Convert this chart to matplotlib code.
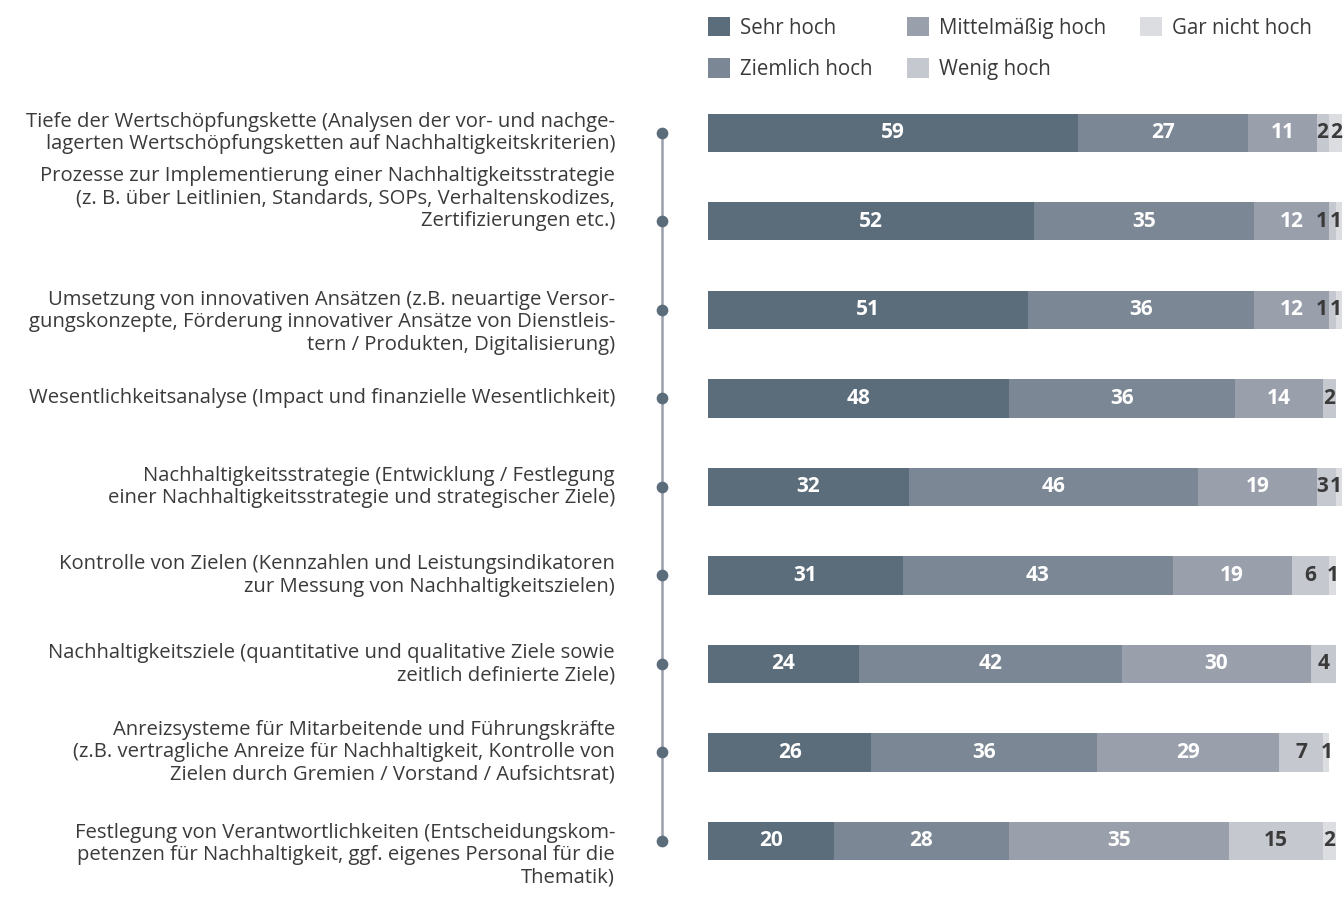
import matplotlib.pyplot as plt
import matplotlib.transforms as mtransforms
import numpy as np

plt.rcParams['font.family'] = ['Open Sans', 'DejaVu Sans']

# data
categories = [
    "Tiefe der Wertschöpfungskette (Analysen der vor- und nachge-\nlagerten Wertschöpfungsketten auf Nachhaltigkeitskriterien)",
    "Prozesse zur Implementierung einer Nachhaltigkeitsstrategie\n(z. B. über Leitlinien, Standards, SOPs, Verhaltenskodizes,\nZertifizierungen etc.)",
    "Umsetzung von innovativen Ansätzen (z.B. neuartige Versor-\ngungskonzepte, Förderung innovativer Ansätze von Dienstleis-\ntern / Produkten, Digitalisierung)",
    "Wesentlichkeitsanalyse (Impact und finanzielle Wesentlichkeit)",
    "Nachhaltigkeitsstrategie (Entwicklung / Festlegung\neiner Nachhaltigkeitsstrategie und strategischer Ziele)",
    "Kontrolle von Zielen (Kennzahlen und Leistungsindikatoren\nzur Messung von Nachhaltigkeitszielen)",
    "Nachhaltigkeitsziele (quantitative und qualitative Ziele sowie\nzeitlich definierte Ziele)",
    "Anreizsysteme für Mitarbeitende und Führungskräfte\n(z.B. vertragliche Anreize für Nachhaltigkeit, Kontrolle von\nZielen durch Gremien / Vorstand / Aufsichtsrat)",
    "Festlegung von Verantwortlichkeiten (Entscheidungskom-\npetenzen für Nachhaltigkeit, ggf. eigenes Personal für die\nThematik)",
]
series_names = ["Sehr hoch", "Ziemlich hoch", "Mittelmäßig hoch", "Wenig hoch", "Gar nicht hoch"]
sehr_hoch = [59, 52, 51, 48, 32, 31, 24, 26, 20]
ziemlich_hoch = [27, 35, 36, 36, 46, 43, 42, 36, 28]
mittel_hoch = [11, 12, 12, 14, 19, 19, 30, 29, 35]
wenig_hoch = [2, 1, 1, 2, 3, 6, 4, 7, 15]
gar_nicht_hoch = [2, 1, 1, 0, 1, 1, 0, 1, 2]

series = [sehr_hoch, ziemlich_hoch, mittel_hoch, wenig_hoch, gar_nicht_hoch]
colors = ["#5b6c7b", "#7b8794", "#999fab", "#c5c8ce", "#dcdde1"]
text_colors = ["white", "white", "white", "#3a3a3a", "#3a3a3a"]
# vertical nudge of the category labels (in rows)
label_shift = [0, -0.26, 0.14, 0, 0, 0, 0, 0, 0.16]

fig = plt.figure(figsize=(13.44, 8.97), dpi=100)
ax = fig.add_axes([708 / 1344, 0.0131, 634 / 1344, 0.888])

totals = np.sum(series, axis=0)
y = np.arange(len(categories))
left = np.zeros(len(categories))
for k, (name, vals, c, tc) in enumerate(zip(series_names, series, colors, text_colors)):
    vals = np.array(vals, dtype=float)
    ax.barh(y, vals, left=left, height=0.43, color=c, label=name)
    for yi, (l, v) in enumerate(zip(left, vals)):
        if v <= 0:
            continue
        kw = dict(va="center", color=tc, fontsize=15, fontweight="bold")
        tail = 0 < gar_nicht_hoch[yi] <= 2 and wenig_hoch[yi] <= 3
        if tail and k == 4:
            # tiny tail: digits side by side, ending at the bar end
            ax.annotate(f"{int(v)}", (totals[yi], yi), xytext=(0, 0),
                        textcoords="offset points", ha="right", **kw)
        elif tail and k == 3:
            ax.annotate(f"{int(v)}", (totals[yi], yi), xytext=(-10, 0),
                        textcoords="offset points", ha="right", **kw)
        else:
            ax.text(l + v / 2, yi, f"{int(v)}", ha="center", **kw)
    left += vals

ax.set_xlim(0, 101)
ax.set_ylim(len(categories) - 0.5, -0.5)
ax.axis("off")

# category labels and timeline
trans = mtransforms.blended_transform_factory(fig.transFigure, ax.transData)
for yi, cat in enumerate(categories):
    ax.text(615 / 1344, yi + label_shift[yi], cat, transform=trans,
            ha="right", va="center", fontsize=14.6, color="#3a3a3a",
            linespacing=1.15)
xl = 662 / 1344
ax.plot([xl, xl], [0, len(categories) - 1], color="#9aa0ab", lw=1.8,
        transform=trans, clip_on=False, zorder=1)
ax.scatter(np.full(len(categories), xl), y, s=55, color="#5b6c7b",
           transform=trans, clip_on=False, zorder=2)

fig.legend(loc="upper left", bbox_to_anchor=(708 / 1344, 1 - 17 / 897), ncol=3,
           frameon=False, fontsize=14.8, handlelength=1.07, handleheight=1.07,
           columnspacing=1.65, handletextpad=0.5, labelspacing=0.95,
           borderpad=0, borderaxespad=0, labelcolor="#3a3a3a")

fig.savefig("out.png", dpi=100)
